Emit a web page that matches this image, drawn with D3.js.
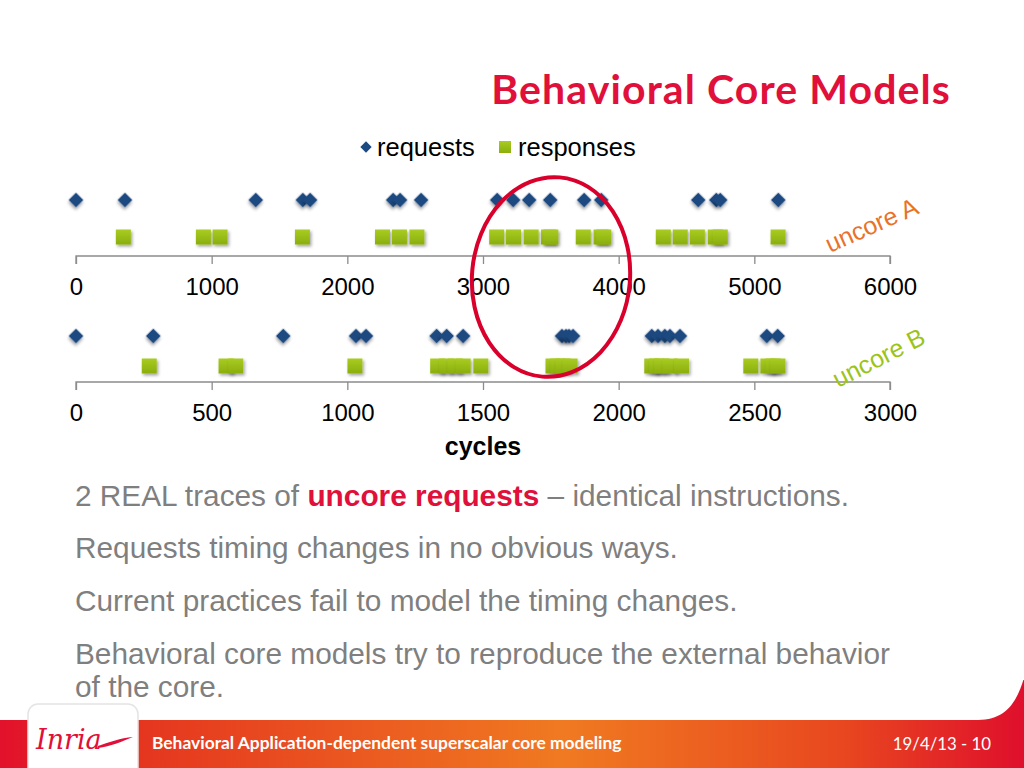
<!DOCTYPE html>
<html><head><meta charset="utf-8">
<script src="https://cdn.jsdelivr.net/npm/d3@7/dist/d3.min.js"></script>
<style>body{margin:0;background:#fff;}svg{display:block;}</style>
</head><body>
<svg id="c" width="1024" height="768"></svg>
<script>
// ---- data ----
const seriesNames = ["requests", "responses"];
const aTicks = [0, 1000, 2000, 3000, 4000, 5000, 6000];
const bTicks = [0, 500, 1000, 1500, 2000, 2500, 3000];
const aRequests = [0, 361, 1325, 1672, 1726, 2338, 2389, 2544, 3105, 3223, 3341, 3496, 3746, 3872, 4587, 4720, 4749, 5177];
const aResponses = [349, 939, 1062, 1669, 2259, 2384, 2513, 3101, 3225, 3355, 3483, 3500, 3739, 3870, 3890, 4329, 4454, 4580, 4712, 4749, 5175];
const bRequests = [0, 285, 764, 1032, 1069, 1329, 1366, 1427, 1791, 1806, 1817, 1832, 2122, 2145, 2170, 2189, 2226, 2546, 2586];
const bResponses = [270, 553, 589, 1028, 1333, 1366, 1397, 1427, 1492, 1758, 1776, 1795, 1821, 2122, 2140, 2159, 2189, 2232, 2487, 2550, 2569, 2587];
const bullets = [
  [{t:"2 REAL traces of "}, {t:"uncore requests", hl:true}, {t:" – identical instructions."}],
  [{t:"Requests timing changes in no obvious ways."}],
  [{t:"Current practices fail to model the timing changes."}],
  [{t:"Behavioral core models try to reproduce the external behavior"}],
  [{t:"of the core."}]
];

const svg = d3.select("#c");
const defs = svg.append("defs");
const sh = defs.append("filter").attr("id","sh").attr("x","-50%").attr("y","-50%").attr("width","200%").attr("height","200%");
sh.append("feDropShadow").attr("dx",1.5).attr("dy",2).attr("stdDeviation",1.6).attr("flood-color","#000").attr("flood-opacity",0.35);
const gg = defs.append("linearGradient").attr("id","sq").attr("x1",0).attr("y1",0).attr("x2",0).attr("y2",1);
gg.append("stop").attr("offset",0).attr("stop-color","#a9cc22");
gg.append("stop").attr("offset",1).attr("stop-color","#8aae0c");
const fg = defs.append("linearGradient").attr("id","band").attr("x1",0).attr("y1",0).attr("x2",1).attr("y2",0);
[[0,"#e2112c"],[0.14,"#e5361f"],[0.55,"#f07a21"],[0.82,"#e8481f"],[1,"#df0f2c"]].forEach(s=>fg.append("stop").attr("offset",s[0]).attr("stop-color",s[1]));

const SANS = "'Liberation Sans', Arial, sans-serif";

// Footer
svg.append("rect").attr("x",0).attr("y",680).attr("width",1024).attr("height",88).attr("fill","url(#band)");
svg.append("path").attr("d","M0,678 L1024,678 C1016,705 1004,720 978,720 L0,720 Z").attr("fill","#fff");
svg.append("rect").attr("x",28).attr("y",704).attr("width",110).attr("height",80).attr("rx",10)
  .attr("fill","#fff").attr("stroke","#e4e4e4").attr("stroke-width",1.5);
svg.append("text").attr("x",36).attr("y",749).attr("font-family","DejaVu Serif").attr("font-style","italic")
  .attr("font-size",27).attr("fill","#e0103a").text("Inria");
svg.append("path").attr("d","M98,746 C110,742 120,738 133,737 C121,742 111,746 98,748 Z").attr("fill","#e0103a");
svg.append("text").attr("x",152).attr("y",749).attr("font-family","Lato, 'Open Sans', sans-serif").attr("font-weight","bold")
  .attr("font-size",17.4).attr("fill","#fff").text("Behavioral Application-dependent superscalar core modeling");
svg.append("text").attr("x",991).attr("y",750).attr("text-anchor","end").attr("font-family","Lato, sans-serif")
  .attr("font-size",16.8).attr("fill","#fff").text("19/4/13 - 10");

// Title
svg.append("text").attr("x",951).attr("y",104).attr("text-anchor","end")
  .attr("font-family","Lato, 'Open Sans', sans-serif").attr("font-weight","bold").attr("font-size",41)
  .attr("letter-spacing",1.1).attr("fill","#e0103a").text("Behavioral Core Models");

// Legend
const lg = svg.append("g");
lg.append("path").attr("d", d3.symbol(d3.symbolSquare, 64)()).attr("transform","translate(366,147) rotate(45)").attr("fill","#1b4a80");
lg.append("text").attr("x",377).attr("y",156).attr("font-family",SANS).attr("font-size",25.5).attr("fill","#000").text(seriesNames[0]);
lg.append("rect").attr("x",499).attr("y",141).attr("width",12).attr("height",12).attr("fill","url(#sq)");
lg.append("text").attr("x",518).attr("y",156).attr("font-family",SANS).attr("font-size",25.5).attr("fill","#000").text(seriesNames[1]);

function panel(domain, ticks, reqs, resps, axisY, reqY, respY) {
  const x = d3.scaleLinear().domain(domain).range([76, 890]);
  const g = svg.append("g");
  const ax = g.append("g").attr("transform",`translate(0,${axisY})`)
    .call(d3.axisBottom(x).tickValues(ticks).tickSize(8).tickPadding(14).tickFormat(d3.format("d")));
  ax.select(".domain").attr("stroke","#8c8c8c").attr("stroke-width",1.3).attr("d",`M76,8V0H890V8`);
  ax.selectAll(".tick line").attr("stroke","#8c8c8c").attr("stroke-width",1.3);
  ax.selectAll(".tick text").attr("font-family",SANS).attr("font-size",24).attr("fill","#000");
  g.selectAll("rect.resp").data(resps).join("rect").attr("class","resp")
    .attr("x", d => x(d) - 7.5).attr("y", respY - 7.5).attr("width",15).attr("height",15)
    .attr("fill","url(#sq)").attr("filter","url(#sh)");
  g.selectAll("path.req").data(reqs).join("path").attr("class","req")
    .attr("d", d3.symbol(d3.symbolSquare, 110)())
    .attr("transform", d => `translate(${x(d)},${reqY}) rotate(45)`)
    .attr("fill","#1b4a80").attr("filter","url(#sh)");
  return x;
}
panel([0,6000], aTicks, aRequests, aResponses, 256, 200, 237);
panel([0,3000], bTicks, bRequests, bResponses, 382, 336, 366);

svg.append("text").attr("x",483).attr("y",455).attr("text-anchor","middle")
  .attr("font-family",SANS).attr("font-weight","bold").attr("font-size",25).attr("fill","#000").text("cycles");

svg.append("text").attr("transform","translate(830,253) rotate(-24)")
  .attr("font-family",SANS).attr("font-size",25).attr("fill","#e8722a").text("uncore A");
svg.append("text").attr("transform","translate(838,388) rotate(-27)")
  .attr("font-family",SANS).attr("font-size",25).attr("fill","#9bc41a").text("uncore B");

// highlight ellipse
svg.append("ellipse").attr("cx",0).attr("cy",0).attr("rx",79).attr("ry",100)
  .attr("transform","translate(551,277) rotate(5)")
  .attr("fill","none").attr("stroke","#d9002c").attr("stroke-width",4);

// bullets
const lineYs = [506, 558, 611, 664, 697];
bullets.forEach((parts,i) => {
  const t = svg.append("text").attr("x",75).attr("y",lineYs[i])
    .attr("font-family",SANS).attr("font-size",29.8).attr("fill","#7f7f7f");
  parts.forEach(p => t.append("tspan").text(p.t)
    .attr("fill", p.hl ? "#e0103a" : null).attr("font-weight", p.hl ? "bold" : null));
});
</script>
</body></html>
